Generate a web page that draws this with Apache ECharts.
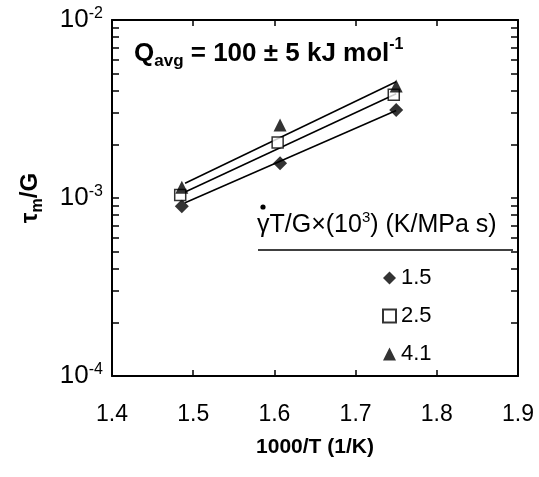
<!DOCTYPE html>
<html>
<head>
<meta charset="UTF-8">
<title>tau_m/G vs 1000/T</title>
<script src="https://cdn.jsdelivr.net/npm/echarts@6/dist/echarts.min.js"></script>
<style>
html, body { margin: 0; padding: 0; background: #fff; }
#main { width: 539px; height: 477px; }
</style>
</head>
<body>
<div id="main"></div>
<script>
// data: 1000/T (1/K) and tau_m/G
var x15 = [1.486, 1.607, 1.750];
var y15 = [9.0e-4, 1.57e-3, 3.12e-3];
var x25 = [1.484, 1.604, 1.747];
var y25 = [1.04e-3, 2.05e-3, 3.80e-3];
var x41 = [1.486, 1.607, 1.750];
var y41 = [1.15e-3, 2.57e-3, 4.26e-3];
// fitted lines (end points)
var fitX = [1.49, 1.75];
var fit15 = [9.4e-4, 3.1e-3];
var fit25 = [1.08e-3, 3.85e-3];
var fit41 = [1.21e-3, 4.5e-3];
// tick labels
var xTickLabels = ['1.4', '1.5', '1.6', '1.7', '1.8', '1.9'];
var yExponents = ['-4', '-3', '-2'];
var seriesNames = ['1.5', '2.5', '4.1'];

var F = '"Liberation Sans", Arial, Helvetica, sans-serif';

function pairs(xs, ys) {
    var out = [];
    for (var i = 0; i < xs.length; i++) out.push([xs[i], ys[i]]);
    return out;
}

var myChart = echarts.init(document.getElementById('main'));

var axisLine = { show: true, lineStyle: { color: '#000', width: 2 } };

var option = {
    backgroundColor: '#fff',
    animation: false,
    grid: { left: 112, right: 21, top: 20, bottom: 101, outerBoundsMode: 'none' },
    xAxis: [
        {
            type: 'value', position: 'bottom',
            min: 1.4, max: 1.9, interval: 0.1,
            axisLine: axisLine,
            axisTick: { show: true, inside: true, length: 6, lineStyle: { color: '#000', width: 1.5 } },
            splitLine: { show: false },
            axisLabel: {
                margin: 27, color: '#000', fontSize: 23, fontFamily: F,
                formatter: function (v) { return xTickLabels[Math.round((v - 1.4) * 10)]; }
            },
            name: '1000/T (1/K)', nameLocation: 'middle', nameGap: 61,
            nameTextStyle: { color: '#000', fontSize: 21, fontWeight: 'bold', fontFamily: F }
        },
        {
            type: 'value', position: 'top',
            min: 1.4, max: 1.9, interval: 0.1,
            axisLine: axisLine,
            axisTick: { show: true, inside: true, length: 6, lineStyle: { color: '#000', width: 1.5 } },
            splitLine: { show: false },
            axisLabel: { show: false }
        }
    ],
    yAxis: [
        {
            type: 'log', logBase: 10, position: 'left',
            min: 1e-4, max: 1e-2,
            axisLine: axisLine,
            axisTick: { show: true, inside: true, length: 7, lineStyle: { color: '#000', width: 1.5 } },
            minorTick: { show: true, splitNumber: 9, length: 7, lineStyle: { color: '#000', width: 1.5 } },
            splitLine: { show: false },
            minorSplitLine: { show: false },
            axisLabel: {
                margin: 9,
                formatter: function (v) {
                    var e = Math.round(Math.log(v) / Math.LN10);
                    return '{b|10}{s|' + yExponents[e + 4] + '}';
                },
                rich: {
                    b: { fontSize: 26, fontFamily: F, color: '#000', lineHeight: 28 },
                    s: { fontSize: 16, fontFamily: F, color: '#000', verticalAlign: 'top' }
                }
            },
            name: '{t|τ}{m|m}{t|/G}', nameLocation: 'middle', nameGap: 66,
            nameTextStyle: {
                rich: {
                    t: { fontSize: 24, fontWeight: 'bold', fontFamily: F, color: '#000', lineHeight: 30 },
                    m: { fontSize: 16, fontWeight: 'bold', fontFamily: F, color: '#000', verticalAlign: 'top', padding: [16, 0, 0, 0] }
                }
            }
        },
        {
            type: 'log', logBase: 10, position: 'right',
            min: 1e-4, max: 1e-2,
            axisLine: axisLine,
            axisTick: { show: true, inside: true, length: 7, lineStyle: { color: '#000', width: 1.5 } },
            minorTick: { show: true, splitNumber: 9, length: 7, lineStyle: { color: '#000', width: 1.5 } },
            splitLine: { show: false },
            minorSplitLine: { show: false },
            axisLabel: { show: false }
        }
    ],
    legend: {
        orient: 'vertical',
        left: 382, top: 267, padding: 0,
        itemWidth: 13, itemHeight: 13, itemGap: 16,
        data: seriesNames,
        textStyle: { color: '#000', fontSize: 22, fontFamily: F }
    },
    series: [
        { name: 'fit15', type: 'line', data: pairs(fitX, fit15), symbol: 'none', silent: true, z: 2,
          lineStyle: { color: '#000', width: 1.5 } },
        { name: 'fit25', type: 'line', data: pairs(fitX, fit25), symbol: 'none', silent: true, z: 2,
          lineStyle: { color: '#000', width: 1.5 } },
        { name: 'fit41', type: 'line', data: pairs(fitX, fit41), symbol: 'none', silent: true, z: 2,
          lineStyle: { color: '#000', width: 1.5 } },
        { name: seriesNames[0], type: 'scatter', data: pairs(x15, y15), symbol: 'diamond', symbolSize: 14, z: 5,
          itemStyle: { color: '#000' } },
        { name: seriesNames[1], type: 'scatter', data: pairs(x25, y25), symbol: 'rect', symbolSize: 11, z: 5,
          itemStyle: { color: '#fff', borderColor: '#000', borderWidth: 1.5 } },
        { name: seriesNames[2], type: 'scatter', data: pairs(x41, y41), symbol: 'triangle', symbolSize: 13, z: 5,
          itemStyle: { color: '#000' } }
    ],
    graphic: [
        {
            type: 'text', left: 134, top: 37, z: 10,
            style: {
                text: '{q|Q}{sb|avg}{q| = 100 ± 5 kJ mol}{sp|-1}',
                rich: {
                    q: { fontSize: 26, fontWeight: 'bold', fontFamily: F, fill: '#000', lineHeight: 33 },
                    sb: { fontSize: 17, fontWeight: 'bold', fontFamily: F, fill: '#000', verticalAlign: 'top', padding: [16, 0, 0, 0] },
                    sp: { fontSize: 16, fontWeight: 'bold', fontFamily: F, fill: '#000', verticalAlign: 'top' }
                }
            }
        },
        {
            type: 'text', left: 257, top: 210, z: 10,
            style: {
                text: '{t|γT/G×(10}{s|3}{t|) (K/MPa s)}',
                rich: {
                    t: { fontSize: 25, fontFamily: F, fill: '#000', lineHeight: 30 },
                    s: { fontSize: 15, fontFamily: F, fill: '#000', verticalAlign: 'top' }
                }
            }
        },
        { type: 'circle', shape: { cx: 263, cy: 207, r: 2.6 }, style: { fill: '#000' }, z: 10 },
        { type: 'line', shape: { x1: 258, y1: 250, x2: 513, y2: 250 }, style: { stroke: '#000', lineWidth: 1.5 }, z: 10 }
    ]
};

myChart.setOption(option);
</script>
</body>
</html>
